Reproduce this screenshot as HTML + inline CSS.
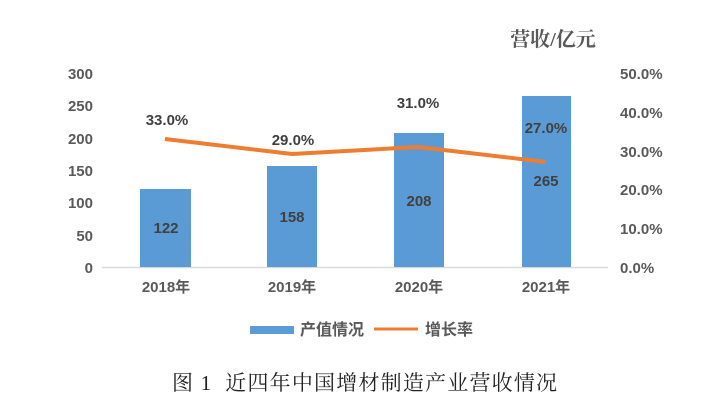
<!DOCTYPE html>
<html><head><meta charset="utf-8"><style>
html,body{margin:0;padding:0;background:#fff;width:708px;height:412px;overflow:hidden}
</style></head><body>
<svg width="708" height="412" xmlns="http://www.w3.org/2000/svg" font-family="Liberation Sans, 'Noto Sans CJK SC', sans-serif">
<g fill="#595959" font-size="15" font-weight="bold" text-anchor="end">
<text x="93" y="273">0</text>
<text x="93" y="241">50</text>
<text x="93" y="208">100</text>
<text x="93" y="176">150</text>
<text x="93" y="144">200</text>
<text x="93" y="111">250</text>
<text x="93" y="79">300</text>
</g>
<g fill="#595959" font-size="15" font-weight="bold" text-anchor="start">
<text x="620" y="273">0.0%</text>
<text x="620" y="234">10.0%</text>
<text x="620" y="195">20.0%</text>
<text x="620" y="157">30.0%</text>
<text x="620" y="118">40.0%</text>
<text x="620" y="79">50.0%</text>
</g>
<text x="553" y="46" text-anchor="middle" fill="#595959" font-size="20" font-weight="bold" font-family="'Liberation Serif','Noto Serif CJK SC',serif">营收/亿元</text>
<line x1="102" y1="267.5" x2="608" y2="267.5" stroke="#d9d9d9" stroke-width="1.5"/>
<g fill="#5b9bd5">
<rect x="140" y="189" width="51" height="78"/>
<rect x="267" y="166" width="50" height="101"/>
<rect x="394" y="133" width="50" height="134"/>
<rect x="522" y="96" width="49" height="171"/>
</g>
<polyline points="165,139 292,154 418,147 546,162" fill="none" stroke="#ed7d31" stroke-width="4" stroke-linejoin="round"/>
<g fill="#404040" font-size="15" font-weight="bold" text-anchor="middle">
<text x="166" y="233">122</text>
<text x="292" y="222">158</text>
<text x="419" y="206">208</text>
<text x="546" y="186">265</text>
<text x="167" y="125">33.0%</text>
<text x="293" y="145">29.0%</text>
<text x="418" y="108">31.0%</text>
<text x="546" y="133">27.0%</text>
</g>
<g fill="#595959" font-size="15" font-weight="bold" text-anchor="middle">
<text x="166" y="292">2018年</text>
<text x="292" y="292">2019年</text>
<text x="419" y="292">2020年</text>
<text x="546" y="292">2021年</text>
</g>
<rect x="250" y="326" width="44" height="8" fill="#5b9bd5"/>
<text x="300" y="335" fill="#595959" font-size="16" font-weight="bold">产值情况</text>
<line x1="374" y1="329" x2="418" y2="329" stroke="#ed7d31" stroke-width="3"/>
<text x="425" y="335" fill="#595959" font-size="16" font-weight="bold">增长率</text>
<text x="172" y="390" fill="#222" font-size="21" letter-spacing="1.2" xml:space="preserve" font-family="'Liberation Serif','Noto Serif CJK SC',serif">图 1  近四年中国增材制造产业营收情况</text>
</svg>
</body></html>
